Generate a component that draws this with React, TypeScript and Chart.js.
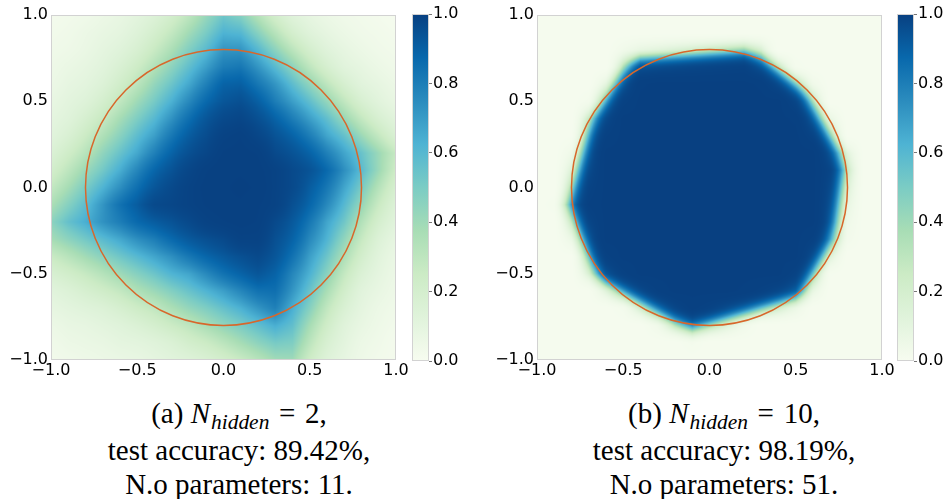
import React, { useEffect, useRef } from 'react';
import { Chart, registerables } from 'chart.js';

Chart.register(...registerables);

// ---------- data ----------
// grid nodes along both axes (columns: x from -1 to 1, rows: y from 1 down to -1)
const gridNodes = [-1, -0.9, -0.8, -0.7, -0.6, -0.5, -0.4, -0.3, -0.2, -0.1, 0, 0.1, 0.2, 0.3, 0.4, 0.5, 0.6, 0.7, 0.8, 0.9, 1];

const axisTicks = [-1, -0.5, 0, 0.5, 1];
const axisTickLabels = ['\u22121.0', '\u22120.5', '0.0', '0.5', '1.0'];
const colorbarTicks = [0, 0.2, 0.4, 0.6, 0.8, 1];
const colorbarTickLabels = ['0.0', '0.2', '0.4', '0.6', '0.8', '1.0'];
const circleRadius = 0.8;

// predicted probability (in %) for N_hidden = 2, rows top (y=1) to bottom (y=-1)
const hidden2Probability = [
  [2, 3, 4, 6, 8, 11, 15, 21, 30, 42, 53, 47, 33, 21, 13, 9, 6, 4, 3, 2, 1],
  [3, 4, 6, 8, 10, 14, 20, 28, 39, 50, 62, 60, 46, 32, 20, 13, 9, 6, 4, 3, 2],
  [4, 5, 7, 10, 13, 18, 26, 36, 48, 59, 72, 72, 60, 45, 31, 20, 13, 9, 6, 4, 3],
  [5, 7, 9, 12, 17, 24, 34, 45, 57, 69, 80, 82, 72, 59, 45, 30, 19, 12, 9, 6, 4],
  [6, 9, 11, 15, 22, 31, 43, 54, 66, 79, 89, 90, 82, 72, 58, 44, 30, 19, 12, 9, 6],
  [8, 11, 14, 20, 29, 40, 51, 63, 76, 87, 93, 95, 90, 80, 69, 57, 43, 29, 18, 12, 8],
  [10, 13, 19, 27, 38, 49, 60, 73, 85, 93, 97, 98, 95, 89, 80, 69, 57, 42, 28, 18, 12],
  [12, 17, 25, 35, 46, 58, 69, 82, 91, 96, 99, 99.5, 98, 94, 89, 80, 67, 56, 41, 28, 17],
  [16, 23, 32, 44, 55, 66, 79, 89, 95, 98, 99.6, 99.7, 99.5, 97, 94, 89, 79, 67, 55, 41, 27],
  [21, 30, 41, 52, 64, 77, 88, 94, 98, 99.5, 99.8, 99.8, 99.7, 99, 97, 94, 87, 74, 59, 41, 24],
  [28, 38, 50, 62, 74, 85, 93, 97, 99, 99.7, 99.8, 99.9, 99.8, 99, 97, 91, 82, 67, 51, 33, 19],
  [36, 47, 58, 72, 84, 91, 97, 98, 99, 99.6, 99.8, 99.8, 99.6, 99, 95, 88, 76, 60, 43, 26, 15],
  [45, 56, 64, 73, 80, 87, 91, 94, 97, 99, 99.5, 99.7, 99.5, 97, 92, 82, 67, 53, 34, 20, 12],
  [38, 45, 52, 59, 66, 74, 80, 87, 92, 95, 97, 99, 99, 95, 89, 76, 62, 44, 27, 15, 9],
  [26, 32, 39, 46, 53, 60, 67, 74, 82, 88, 92, 95, 97, 93, 84, 69, 54, 36, 21, 12, 7],
  [18, 22, 27, 33, 40, 47, 54, 62, 67, 76, 84, 89, 93, 89, 77, 63, 46, 28, 16, 10, 6],
  [12, 15, 19, 23, 28, 35, 41, 48, 55, 62, 69, 77, 84, 85, 72, 55, 37, 22, 12, 8, 5],
  [9, 11, 13, 15, 19, 24, 29, 36, 43, 49, 56, 63, 72, 79, 64, 47, 29, 17, 10, 6, 4],
  [6, 8, 9, 11, 13, 16, 20, 25, 30, 37, 44, 50, 57, 64, 57, 38, 23, 13, 8, 5, 3],
  [4, 6, 7, 8, 10, 11, 13, 16, 21, 25, 31, 38, 45, 51, 49, 31, 18, 11, 6, 4, 2],
  [3, 4, 5, 6, 7, 8, 10, 12, 14, 17, 21, 26, 32, 39, 40, 24, 14, 9, 5, 3, 2],
];

// predicted probability (in %) for N_hidden = 10, rows top (y=1) to bottom (y=-1)
const hidden10Probability = [
  [1, 1, 1, 1, 1, 1, 1, 1, 1, 1, 1, 1, 1, 1, 1, 1, 1, 1, 1, 1, 1],
  [1, 1, 1, 1, 1, 1, 1, 1, 1, 1, 1, 1, 1, 1, 1, 1, 1, 1, 1, 1, 1],
  [1, 1, 1, 1, 1, 3.6, 8.4, 11.5, 15.5, 20.7, 27.0, 34.4, 42.7, 17.6, 1, 1, 1, 1, 1, 1, 1],
  [1, 1, 1, 1, 1, 35.5, 93.1, 95.1, 96.5, 97.5, 98.2, 98.7, 99.1, 91.3, 31.1, 2.0, 1, 1, 1, 1, 1],
  [1, 1, 1, 1, 10.5, 89.1, 99.8, 99.9, 99.9, 99.9, 99.9, 99.9, 99.9, 99.8, 95.9, 50.1, 4.3, 1, 1, 1, 1],
  [1, 1, 1, 2.5, 63.5, 99.2, 99.9, 99.9, 99.9, 99.9, 99.9, 99.9, 99.9, 99.9, 99.9, 97.8, 36.7, 1, 1, 1, 1],
  [1, 1, 1, 28.0, 96.3, 99.9, 99.9, 99.9, 99.9, 99.9, 99.9, 99.9, 99.9, 99.9, 99.9, 99.8, 87.0, 8.0, 1, 1, 1],
  [1, 1, 1.3, 62.4, 99.5, 99.9, 99.9, 99.9, 99.9, 99.9, 99.9, 99.9, 99.9, 99.9, 99.9, 99.9, 98.7, 50.1, 1.2, 1, 1],
  [1, 1, 4.8, 85.9, 99.9, 99.9, 99.9, 99.9, 99.9, 99.9, 99.9, 99.9, 99.9, 99.9, 99.9, 99.9, 99.9, 92.1, 12.5, 1, 1],
  [1, 1, 15.5, 95.7, 99.9, 99.9, 99.9, 99.9, 99.9, 99.9, 99.9, 99.9, 99.9, 99.9, 99.9, 99.9, 99.9, 98.3, 29.0, 1, 1],
  [1, 1, 40.2, 98.8, 99.9, 99.9, 99.9, 99.9, 99.9, 99.9, 99.9, 99.9, 99.9, 99.9, 99.9, 99.9, 99.9, 96.6, 16.9, 1, 1],
  [1, 1.9, 71.2, 99.6, 99.9, 99.9, 99.9, 99.9, 99.9, 99.9, 99.9, 99.9, 99.9, 99.9, 99.9, 99.9, 99.9, 93.4, 9.2, 1, 1],
  [1, 1, 29.0, 97.8, 99.9, 99.9, 99.9, 99.9, 99.9, 99.9, 99.9, 99.9, 99.9, 99.9, 99.9, 99.9, 99.9, 87.6, 4.8, 1, 1],
  [1, 1, 6.6, 88.1, 99.9, 99.9, 99.9, 99.9, 99.9, 99.9, 99.9, 99.9, 99.9, 99.9, 99.9, 99.9, 99.4, 68.0, 2.8, 1, 1],
  [1, 1, 1.2, 56.3, 99.3, 99.9, 99.9, 99.9, 99.9, 99.9, 99.9, 99.9, 99.9, 99.9, 99.9, 99.9, 93.4, 15.5, 1, 1, 1],
  [1, 1, 1, 17.6, 92.4, 99.3, 99.9, 99.9, 99.9, 99.9, 99.9, 99.9, 99.9, 99.9, 99.9, 98.9, 53.9, 1.5, 1, 1, 1],
  [1, 1, 1, 1.3, 13.6, 65.8, 95.7, 99.6, 99.9, 99.9, 99.9, 99.9, 99.8, 99.3, 97.2, 88.1, 8.7, 1, 1, 1, 1],
  [1, 1, 1, 1, 1, 2.3, 22.4, 76.9, 97.5, 99.7, 98.9, 95.3, 83.3, 53.9, 22.4, 6.6, 1, 1, 1, 1, 1],
  [1, 1, 1, 1, 1, 1, 1, 4.1, 33.3, 74.2, 41.5, 14.9, 3.9, 1, 1, 1, 1, 1, 1, 1, 1],
  [1, 1, 1, 1, 1, 1, 1, 1, 1, 2.4, 1, 1, 1, 1, 1, 1, 1, 1, 1, 1, 1],
  [1, 1, 1, 1, 1, 1, 1, 1, 1, 1, 1, 1, 1, 1, 1, 1, 1, 1, 1, 1, 1],
];

// GnBu colormap stops (value 0 -> 1)
const gnbuStops = ['#f7fcf0', '#e0f3db', '#ccebc5', '#a8ddb5', '#7bccc4', '#4eb3d3', '#2b8cbe', '#0868ac', '#084081'];

const captionA = { tag: '(a)', hidden: '2', accuracy: '89.42%', params: '11' };
const captionB = { tag: '(b)', hidden: '10', accuracy: '98.19%', params: '51' };

// ---------- helpers ----------
const CIRCLE_COLOR = '#d8672b';
const FRAME_COLOR = '#d2d2d2';
const TICK_FONT = { family: 'DejaVu Sans', size: 16 };

function hexToRgb(h: string): number[] {
  return [parseInt(h.slice(1, 3), 16), parseInt(h.slice(3, 5), 16), parseInt(h.slice(5, 7), 16)];
}
const gnbuRgb = gnbuStops.map(hexToRgb);

function colormap(v: number): number[] {
  const t = Math.max(0, Math.min(1, v)) * (gnbuRgb.length - 1);
  const i = Math.min(gnbuRgb.length - 2, Math.floor(t));
  const f = t - i;
  const a = gnbuRgb[i];
  const b = gnbuRgb[i + 1];
  return [a[0] + (b[0] - a[0]) * f, a[1] + (b[1] - a[1]) * f, a[2] + (b[2] - a[2]) * f];
}

function locate(v: number): [number, number] {
  const n = gridNodes.length;
  if (v <= gridNodes[0]) return [0, 0];
  if (v >= gridNodes[n - 1]) return [n - 2, 1];
  for (let i = 0; i < n - 1; i++) {
    if (v >= gridNodes[i] && v <= gridNodes[i + 1]) {
      return [i, (v - gridNodes[i]) / (gridNodes[i + 1] - gridNodes[i])];
    }
  }
  return [n - 2, 1];
}

// probability (%) -> logit, so the image is shaded in the network's output space
function toLogit(p: number): number {
  const q = Math.min(0.999, Math.max(0.001, p / 100));
  return Math.log(q / (1 - q));
}

function sampleGrid(logits: number[][], X: number, Y: number): number {
  const n = gridNodes.length;
  const [c, cf] = locate(X);
  const [r, rf] = locate(-Y); // rows go from y = 1 (top) to y = -1 (bottom)
  const c1 = Math.min(n - 1, c + 1);
  const r1 = Math.min(n - 1, r + 1);
  const top = logits[r][c] + (logits[r][c1] - logits[r][c]) * cf;
  const bot = logits[r1][c] + (logits[r1][c1] - logits[r1][c]) * cf;
  const z = top + (bot - top) * rf;
  return 1 / (1 + Math.exp(-z));
}

const heatmapPlugin = {
  id: 'heatmapLayer',
  beforeDatasetsDraw(chart: any, _args: any, opts: any) {
    const grid: number[][] = opts.grid;
    if (!grid) return;
    const logits = grid.map((row) => row.map(toLogit));
    const { ctx, chartArea, scales } = chart;
    const x0 = Math.round(chartArea.left);
    const y0 = Math.round(chartArea.top);
    const w = Math.round(chartArea.right) - x0;
    const h = Math.round(chartArea.bottom) - y0;
    const off = document.createElement('canvas');
    off.width = w;
    off.height = h;
    const octx = off.getContext('2d')!;
    const img = octx.createImageData(w, h);
    for (let py = 0; py < h; py++) {
      const Y = scales.y.getValueForPixel(y0 + py + 0.5);
      for (let px = 0; px < w; px++) {
        const X = scales.x.getValueForPixel(x0 + px + 0.5);
        const c = colormap(sampleGrid(logits, X, Y));
        const k = (py * w + px) * 4;
        img.data[k] = c[0];
        img.data[k + 1] = c[1];
        img.data[k + 2] = c[2];
        img.data[k + 3] = 255;
      }
    }
    octx.putImageData(img, 0, 0);
    ctx.save();
    ctx.drawImage(off, x0, y0, w, h);
    ctx.strokeStyle = FRAME_COLOR;
    ctx.lineWidth = 1;
    ctx.strokeRect(x0 + 0.5, y0 + 0.5, w - 1, h - 1);
    const cx = scales.x.getPixelForValue(0);
    const cy = scales.y.getPixelForValue(0);
    const rx = Math.abs(scales.x.getPixelForValue(circleRadius) - cx);
    const ry = Math.abs(scales.y.getPixelForValue(circleRadius) - cy);
    ctx.beginPath();
    ctx.ellipse(cx, cy, rx, ry, 0, 0, Math.PI * 2);
    ctx.strokeStyle = CIRCLE_COLOR;
    ctx.lineWidth = 1.5;
    ctx.stroke();
    ctx.restore();
  },
};

const colorbarPlugin = {
  id: 'colorbarLayer',
  beforeDatasetsDraw(chart: any) {
    const { ctx, chartArea, scales } = chart;
    const yTop = scales.y.getPixelForValue(1);
    const yBot = scales.y.getPixelForValue(0);
    const grad = ctx.createLinearGradient(0, yBot, 0, yTop);
    gnbuStops.forEach((c, i) => grad.addColorStop(i / (gnbuStops.length - 1), c));
    ctx.save();
    ctx.fillStyle = grad;
    ctx.fillRect(chartArea.left, yTop, chartArea.right - chartArea.left, yBot - yTop);
    ctx.strokeStyle = FRAME_COLOR;
    ctx.lineWidth = 1;
    ctx.strokeRect(Math.round(chartArea.left) + 0.5, Math.round(yTop) + 0.5, Math.round(chartArea.right - chartArea.left) - 1, Math.round(yBot - yTop) - 1);
    ctx.restore();
  },
};

function HeatmapChart({ grid, left }: { grid: number[][]; left: number }) {
  const ref = useRef<HTMLCanvasElement>(null);
  useEffect(() => {
    if (!ref.current) return;
    const chart = new Chart(ref.current, {
      type: 'scatter',
      data: { datasets: [{ data: [] }] },
      plugins: [heatmapPlugin],
      options: {
        responsive: false,
        animation: false,
        events: [],
        layout: { padding: { left: 0, top: 15, right: 14, bottom: 0 } },
        plugins: {
          legend: { display: false },
          tooltip: { enabled: false },
          heatmapLayer: { grid },
        } as any,
        scales: {
          x: {
            type: 'linear',
            min: -1,
            max: 1,
            position: 'bottom',
            afterBuildTicks: (s: any) => { s.ticks = axisTicks.map((v) => ({ value: v })); },
            afterFit: (s: any) => { s.height = 32; },
            grid: { display: false, drawTicks: false },
            border: { display: false },
            ticks: {
              font: TICK_FONT,
              color: '#000',
              padding: 1,
              maxRotation: 0,
              autoSkip: false,
              callback: (v: any) => axisTickLabels[axisTicks.indexOf(Number(v))],
            },
          },
          y: {
            type: 'linear',
            min: -1,
            max: 1,
            afterBuildTicks: (s: any) => { s.ticks = axisTicks.map((v) => ({ value: v })); },
            afterFit: (s: any) => { s.width = 51; },
            grid: { display: false, drawTicks: false },
            border: { display: false },
            ticks: {
              font: TICK_FONT,
              color: '#000',
              padding: 3,
              autoSkip: false,
              callback: (v: any) => axisTickLabels[axisTicks.indexOf(Number(v))],
            },
          },
        },
      } as any,
    });
    return () => chart.destroy();
  }, [grid]);
  return (
    <canvas
      ref={ref}
      width={410}
      height={392}
      style={{ position: 'absolute', left, top: 0, width: 410, height: 392 }}
    />
  );
}

function ColorbarChart({ left }: { left: number }) {
  const ref = useRef<HTMLCanvasElement>(null);
  useEffect(() => {
    if (!ref.current) return;
    const chart = new Chart(ref.current, {
      type: 'scatter',
      data: { datasets: [{ data: [] }] },
      plugins: [colorbarPlugin],
      options: {
        responsive: false,
        animation: false,
        events: [],
        layout: { padding: { left: 12, top: 14, right: 0, bottom: 31 } },
        plugins: { legend: { display: false }, tooltip: { enabled: false } },
        scales: {
          x: { type: 'linear', display: false, min: 0, max: 1 },
          y: {
            type: 'linear',
            position: 'right',
            min: 0,
            max: 1,
            afterBuildTicks: (s: any) => { s.ticks = colorbarTicks.map((v) => ({ value: v })); },
            afterFit: (s: any) => { s.width = 51; },
            grid: { display: true, drawOnChartArea: false, drawTicks: true, tickLength: 3, color: '#777' },
            border: { display: false },
            ticks: {
              font: TICK_FONT,
              color: '#000',
              padding: 1,
              autoSkip: false,
              callback: (v: any) => colorbarTickLabels[colorbarTicks.indexOf(Number(v))],
            },
          },
        },
      } as any,
    });
    return () => chart.destroy();
  }, []);
  return (
    <canvas
      ref={ref}
      width={80}
      height={392}
      style={{ position: 'absolute', left, top: 0, width: 80, height: 392 }}
    />
  );
}

function Caption({ c, center }: { c: typeof captionA; center: number }) {
  const w = 480;
  return (
    <div
      style={{
        position: 'absolute',
        left: center - w / 2,
        top: 396,
        width: w,
        textAlign: 'center',
        fontFamily: '"Liberation Serif", "DejaVu Serif", serif',
        fontSize: 29,
        lineHeight: '34px',
        color: '#000',
        whiteSpace: 'nowrap',
      }}
    >
      <div>
        {c.tag} <span style={{ fontStyle: 'italic' }}>N</span>
        <span style={{ fontStyle: 'italic', fontSize: '0.74em', position: 'relative', top: '0.28em', marginLeft: 1 }}>hidden</span>
        {'\u2004=\u2004'}{c.hidden},
      </div>
      <div>test accuracy: {c.accuracy},</div>
      <div>N.o parameters: {c.params}.</div>
    </div>
  );
}

export default function App() {
  return (
    <div
      style={{
        position: 'absolute',
        left: 0,
        top: 0,
        width: 948,
        height: 499,
        overflow: 'hidden',
        background: '#ffffff',
      }}
    >
      <HeatmapChart grid={hidden2Probability} left={0} />
      <ColorbarChart left={400} />
      <HeatmapChart grid={hidden10Probability} left={486} />
      <ColorbarChart left={885} />
      <Caption c={captionA} center={239} />
      <Caption c={captionB} center={724} />
    </div>
  );
}
